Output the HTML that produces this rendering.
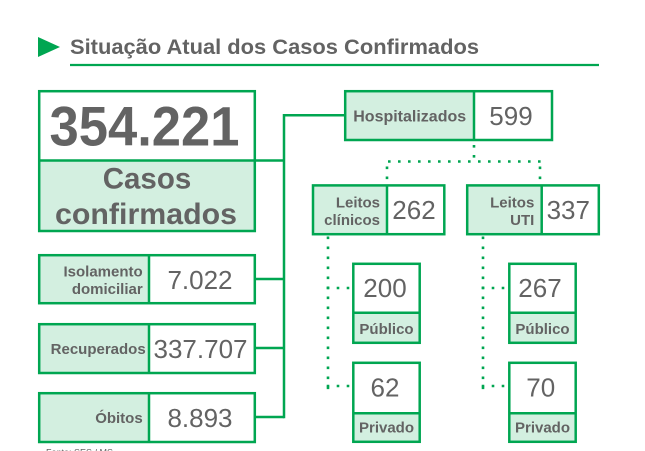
<!DOCTYPE html>
<html><head><meta charset="utf-8"><style>
html,body{margin:0;padding:0;background:#fff;}
svg{display:block;}
text{font-family:"Liberation Sans",Arial,sans-serif;fill:#636363;}
.b{font-weight:bold;}
</style></head><body>
<svg width="645" height="451" viewBox="0 0 645 451" xmlns="http://www.w3.org/2000/svg">
<!-- title -->
<polygon points="38,37 60,47 38,57" fill="#00a651"/>
<text x="70" y="54" class="b" font-size="21.3" textLength="409" lengthAdjust="spacingAndGlyphs">Situação Atual dos Casos Confirmados</text>
<line x1="70" y1="65" x2="599" y2="65" stroke="#00a651" stroke-width="2.2"/>

<!-- solid connectors -->
<g stroke="#00a651" stroke-width="2.5" fill="none">
<line x1="284" y1="114" x2="284" y2="418.2"/>
<line x1="284" y1="115.3" x2="345" y2="115.3"/>
<line x1="256" y1="160.5" x2="284" y2="160.5"/>
<line x1="256" y1="279" x2="284" y2="279"/>
<line x1="256" y1="348" x2="284" y2="348"/>
<line x1="256" y1="417" x2="284" y2="417"/>
</g>

<!-- dotted connectors -->
<g stroke="#00a651" stroke-width="2.6" fill="none" stroke-dasharray="2.6 7.4">
<line x1="474" y1="145" x2="474" y2="158"/>
<line x1="388" y1="161.5" x2="545" y2="161.5"/>
<line x1="387" y1="166.5" x2="387" y2="182"/>
<line x1="540" y1="166.5" x2="540" y2="182"/>
<line x1="328" y1="236.5" x2="328" y2="390"/>
<line x1="483" y1="236.5" x2="483" y2="390"/>
<line x1="326.7" y1="288" x2="351" y2="288"/>
<line x1="326.7" y1="386" x2="351" y2="386"/>
<line x1="481.7" y1="288" x2="507" y2="288"/>
<line x1="481.7" y1="386" x2="507" y2="386"/>
</g>

<!-- fills -->
<g fill="#d3efe0">
<rect x="39" y="161" width="216" height="70"/>
<rect x="39" y="255" width="110" height="48"/>
<rect x="39" y="324" width="110" height="49"/>
<rect x="39" y="393" width="110" height="49"/>
<rect x="345" y="91" width="129" height="49"/>
<rect x="313" y="185" width="74" height="49"/>
<rect x="467" y="185" width="75" height="49"/>
<rect x="353" y="313" width="67" height="30"/>
<rect x="353" y="413" width="67" height="29"/>
<rect x="509" y="313" width="67" height="30"/>
<rect x="509" y="413" width="67" height="29"/>
</g>

<!-- boxes -->
<g stroke="#00a651" stroke-width="2.5" fill="none">
<rect x="39.2" y="91.2" width="215.6" height="139.8"/>
<line x1="39" y1="160.5" x2="255" y2="160.5"/>
<rect x="39.2" y="255.2" width="215.6" height="48"/>
<line x1="149" y1="255" x2="149" y2="304"/>
<rect x="39.2" y="324.2" width="215.6" height="48.8"/>
<line x1="149" y1="324" x2="149" y2="373"/>
<rect x="39.2" y="393.2" width="215.6" height="48.8"/>
<line x1="149" y1="393" x2="149" y2="442"/>

<rect x="345.2" y="91.2" width="206.8" height="48.8"/>
<line x1="474" y1="91" x2="474" y2="140"/>
<rect x="313" y="185.4" width="131.3" height="48.8"/>
<line x1="387" y1="185" x2="387" y2="234"/>
<rect x="467.2" y="185.4" width="131.6" height="48.8"/>
<line x1="541.7" y1="185" x2="541.7" y2="234"/>

<rect x="353.3" y="263.8" width="66.4" height="79"/>
<line x1="353" y1="312.8" x2="420" y2="312.8"/>
<rect x="353.3" y="362.8" width="66.4" height="79"/>
<line x1="353" y1="413.3" x2="420" y2="413.3"/>
<rect x="509.3" y="263.8" width="66.4" height="79"/>
<line x1="509" y1="312.8" x2="576" y2="312.8"/>
<rect x="509.3" y="362.8" width="66.4" height="79"/>
<line x1="509" y1="413.3" x2="576" y2="413.3"/>
</g>

<!-- big box text -->
<text x="49.5" y="145.5" class="b" font-size="56" textLength="190" lengthAdjust="spacingAndGlyphs">354.221</text>
<text x="147" y="188.5" class="b" font-size="29.5" text-anchor="middle">Casos</text>
<text x="55" y="224" class="b" font-size="29.5" textLength="182" lengthAdjust="spacingAndGlyphs">confirmados</text>

<!-- left boxes -->
<text x="142.7" y="276.3" class="b" font-size="15" text-anchor="end">Isolamento</text>
<text x="142.7" y="293.8" class="b" font-size="15" text-anchor="end">domiciliar</text>
<text x="200" y="289.2" font-size="26" text-anchor="middle">7.022</text>
<text x="145.7" y="354.2" class="b" font-size="15" text-anchor="end">Recuperados</text>
<text x="200.5" y="358.2" font-size="26" text-anchor="middle">337.707</text>
<text x="142.7" y="423.2" class="b" font-size="15" text-anchor="end">Óbitos</text>
<text x="200" y="427.2" font-size="26" text-anchor="middle">8.893</text>

<!-- hospitalizados -->
<text x="409.7" y="121.3" class="b" font-size="16" text-anchor="middle">Hospitalizados</text>
<text x="511" y="124.8" font-size="26" text-anchor="middle">599</text>

<text x="380" y="207.3" class="b" font-size="15" text-anchor="end">Leitos</text>
<text x="380" y="225" class="b" font-size="15" text-anchor="end">clínicos</text>
<text x="414" y="219" font-size="26" text-anchor="middle">262</text>
<text x="534.3" y="207.3" class="b" font-size="15" text-anchor="end">Leitos</text>
<text x="534.3" y="225" class="b" font-size="15" text-anchor="end">UTI</text>
<text x="568.3" y="219" font-size="26" text-anchor="middle">337</text>

<!-- sub boxes -->
<text x="385" y="297" font-size="26" text-anchor="middle">200</text>
<text x="386.5" y="334" class="b" font-size="15" text-anchor="middle">Público</text>
<text x="385" y="396.7" font-size="26" text-anchor="middle">62</text>
<text x="386.5" y="432.7" class="b" font-size="15" text-anchor="middle">Privado</text>
<text x="540" y="297" font-size="26" text-anchor="middle">267</text>
<text x="542.5" y="334" class="b" font-size="15" text-anchor="middle">Público</text>
<text x="540.7" y="396.7" font-size="26" text-anchor="middle">70</text>
<text x="542.5" y="432.7" class="b" font-size="15" text-anchor="middle">Privado</text>

<text x="46" y="455.5" font-size="9" fill="#777">Fonte: SES / MS</text>
</svg>
</body></html>
